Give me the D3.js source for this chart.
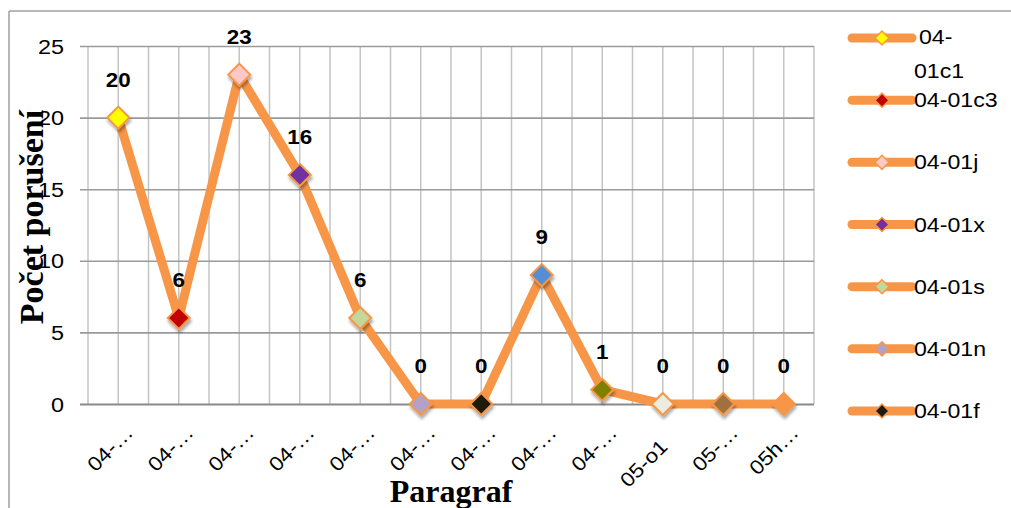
<!DOCTYPE html>
<html><head><meta charset="utf-8">
<script src="https://cdn.jsdelivr.net/npm/d3@7/dist/d3.min.js"></script>
<style>html,body{margin:0;padding:0;background:#fff;overflow:hidden}</style>
</head><body>
<svg id="c" width="1011" height="508"></svg>
<script>
// ---- data ----
const tickLabels = ["04-…","04-…","04-…","04-…","04-…","04-…","04-…","04-…","04-…","05-o1","05-…","05h…"];
const values = [20, 6, 23, 16, 6, 0, 0, 9, 1, 0, 0, 0];
const pointColors = ["#FFFF00","#C00000","#FCC8C8","#7030A0","#C3D69B","#B3A2C7","#1D1B10","#558ED5","#808000","#EEECE1","#A0703F","#F79646"];
const legendNames = ["04-01c1","04-01c3","04-01j","04-01x","04-01s","04-01n","04-01f"];
const yTicks = [0, 5, 10, 15, 20, 25];
const yTitle = "Počet porušení";
const xTitle = "Paragraf";

// ---- layout ----
const svg = d3.select("#c");
const L = 88, R = 814, T = 46, B = 404;
const idx = d3.range(values.length);
const xb = d3.scaleBand().domain(idx).range([L, R]);
const xc = i => xb(i) + xb.bandwidth() / 2;
const y = d3.scaleLinear().domain([0, 25]).range([B, T]);
const orange = "#F79646";

const defs = svg.append("defs");
const f = defs.append("filter").attr("id","sh").attr("x","-50%").attr("y","-50%").attr("width","200%").attr("height","200%");
f.append("feDropShadow").attr("dx",1).attr("dy",3).attr("stdDeviation",1.6).attr("flood-color","#000").attr("flood-opacity",0.35);

// outer frame
svg.append("line").attr("x1",9).attr("x2",1011).attr("y1",11).attr("y2",11).attr("stroke","#a0a0a0").attr("stroke-width",1.5);
svg.append("line").attr("x1",9).attr("x2",9).attr("y1",11).attr("y2",508).attr("stroke","#a0a0a0").attr("stroke-width",1.5);

// vertical gridlines (band edges and centers)
const vgrid = d3.range(0, values.length * 2 + 1).map(k => L + k * xb.bandwidth() / 2);
svg.append("g").selectAll("line").data(vgrid).join("line")
  .attr("x1", d => d).attr("x2", d => d).attr("y1", T).attr("y2", B)
  .attr("stroke", "#c4c4c4").attr("stroke-width", 1.5);

// y axis with horizontal gridlines
const ya = svg.append("g").attr("transform", `translate(${L},0)`)
  .call(d3.axisLeft(y).tickValues(yTicks).tickSize(8).tickSizeInner(-(R - L)).tickPadding(0));
ya.select(".domain").remove();
ya.selectAll(".tick line").attr("x1", -8).attr("stroke", d => d === 0 ? "#8a8a8a" : "#9a9a9a").attr("stroke-width", d => d === 0 ? 2 : 1.6);
ya.selectAll(".tick text").remove();
ya.selectAll(".tick").append("text")
  .attr("transform", "translate(-24,7) scale(1.2,1)")
  .attr("text-anchor", "end").attr("fill", "#000")
  .style("font-family", "'Liberation Sans', Arial, sans-serif").style("font-size", "19.5px")
  .text(d => d);

// x axis labels
const xa = svg.append("g").attr("transform", `translate(0,${B})`)
  .call(d3.axisBottom(xb).tickSize(0).tickFormat(i => tickLabels[i]));
xa.select(".domain").remove();
xa.selectAll(".tick text")
  .attr("y", 0).attr("dy", 0)
  .attr("transform", i => tickLabels[i].endsWith("…") ? "translate(16,30) rotate(-45) scale(1.12,1)" : "translate(6,44) rotate(-45) scale(1.12,1)")
  .attr("text-anchor", "end").attr("fill", "#000")
  .style("font-family", "'Liberation Sans', Arial, sans-serif").style("font-size", "20px");

// line
svg.append("path").datum(idx)
  .attr("d", d3.line().x(i => xc(i)).y(i => y(values[i])))
  .attr("fill", "none").attr("stroke", orange).attr("stroke-width", 9)
  .attr("stroke-linejoin", "round").attr("stroke-linecap", "round");

// markers
const diamond = s => `M0,${-s}L${s},0L0,${s}L${-s},0Z`;
svg.append("g").selectAll("path").data(idx).join("path")
  .attr("transform", i => `translate(${xc(i)},${y(values[i])})`)
  .attr("d", diamond(11))
  .attr("fill", i => pointColors[i]).attr("stroke", orange).attr("stroke-width", 2)
  .attr("filter", "url(#sh)");

// data labels
svg.append("g").selectAll("text").data(idx).join("text")
  .attr("transform", i => `translate(${xc(i)},${y(values[i]) - 31}) scale(1.12,1)`)
  .attr("text-anchor", "middle").attr("fill", "#000")
  .style("font-family", "'Liberation Sans', Arial, sans-serif").style("font-size", "20px").style("font-weight", "bold")
  .text(i => values[i]);

// axis titles
svg.append("text").attr("transform", "translate(43,217) rotate(-90)")
  .attr("text-anchor", "middle").attr("fill", "#000")
  .style("font-family", "'Liberation Serif', 'Times New Roman', serif").style("font-size", "34px").style("font-weight", "bold")
  .text(yTitle);
svg.append("text").attr("x", (L + R) / 2).attr("y", 502)
  .attr("text-anchor", "middle").attr("fill", "#000")
  .style("font-family", "'Liberation Serif', 'Times New Roman', serif").style("font-size", "32px").style("font-weight", "bold")
  .text(xTitle);

// legend
const lg = svg.append("g").selectAll("g").data(legendNames).join("g")
  .attr("transform", (d, i) => `translate(882,${38 + i * 62.17})`);
lg.append("line").attr("x1", -30).attr("x2", 30).attr("stroke", orange).attr("stroke-width", 9).attr("stroke-linecap", "round");
lg.append("path").attr("d", diamond(7)).attr("fill", (d, i) => pointColors[i]).attr("stroke", orange).attr("stroke-width", 1.5);
const lt = lg.append("text").attr("fill", "#000")
  .style("font-family", "'Liberation Sans', Arial, sans-serif").style("font-size", "20.5px");
lt.each(function(d, i) {
  const t = d3.select(this);
  if (i === 0) {
    t.append("tspan").attr("x", 37 / 1.13).attr("y", 6).text(d.slice(0, 3));
    t.append("tspan").attr("x", 32 / 1.13).attr("y", 40).text(d.slice(3));
  } else {
    t.append("tspan").attr("x", 32 / 1.13).attr("y", 7).text(d);
  }
});
lt.attr("transform", "scale(1.13,1)");
</script>
</body></html>
